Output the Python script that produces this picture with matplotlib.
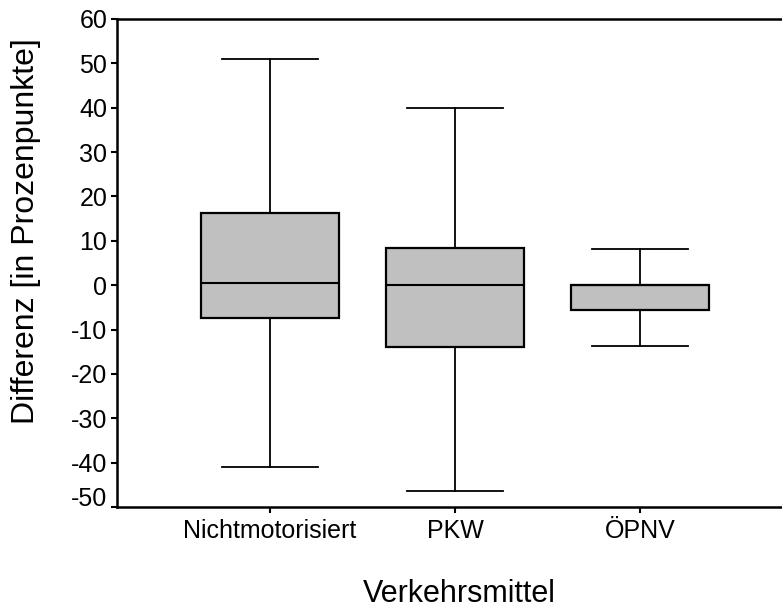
import matplotlib
matplotlib.use("Agg")
import matplotlib.pyplot as plt
import matplotlib.transforms as mtransforms

plt.rcParams["font.family"] = ["Liberation Sans", "DejaVu Sans"]
plt.rcParams["axes.unicode_minus"] = False

categories = ["Nichtmotorisiert", "PKW", "ÖPNV"]
whisker_low = [-41.0, -46.3, -13.7]
q1 = [-7.3, -14.0, -5.5]
median = [0.5, 0.0, 0.0]
q3 = [16.2, 8.3, 0.1]
whisker_high = [51.0, 40.0, 8.1]
y_ticks = list(range(-50, 61, 10))

stats = []
for name, lo, a, m, b, hi in zip(categories, whisker_low, q1, median, q3, whisker_high):
    stats.append({"label": name, "whislo": lo, "q1": a, "med": m, "q3": b,
                  "whishi": hi, "fliers": []})

fig = plt.figure(figsize=(7.82, 6.06), dpi=100)
ax = fig.add_axes([117 / 782, 99 / 606, 665 / 782, 488 / 606])

ax.bxp(stats, positions=[1, 2, 3], widths=0.75, capwidths=0.52,
       patch_artist=True, showfliers=False,
       boxprops=dict(facecolor="#c0c0c0", edgecolor="black", linewidth=1.6),
       medianprops=dict(color="black", linewidth=1.5),
       whiskerprops=dict(color="black", linewidth=1.3),
       capprops=dict(color="black", linewidth=1.3))

ax.set_xlim(0.173, 3.768)
ax.set_ylim(-50, 60)
ax.set_yticks(y_ticks)
ax.set_xticks([1, 2, 3])
ax.set_xticklabels(categories)
ax.tick_params(axis="both", direction="out", length=4, width=1.5, labelsize=18)
ax.tick_params(axis="x", pad=5)
ax.tick_params(axis="y", pad=3)
for side in ["left", "bottom", "top"]:
    ax.spines[side].set_linewidth(1.8)
ax.spines["right"].set_visible(False)

# lowest tick label sits a little above its tick in the original
lowest = ax.get_yticklabels()[0]
lowest.set_transform(lowest.get_transform() +
                     mtransforms.ScaledTranslation(0, 10 / 100, fig.dpi_scale_trans))

ax.set_xlabel("Verkehrsmittel", fontsize=22)
ax.xaxis.set_label_coords(0.515, -0.147)
ax.set_ylabel("Differenz [in Prozenpunkte]", fontsize=23)
ax.yaxis.set_label_coords(-0.114, 0.566)

fig.savefig("out.png", dpi=100)
